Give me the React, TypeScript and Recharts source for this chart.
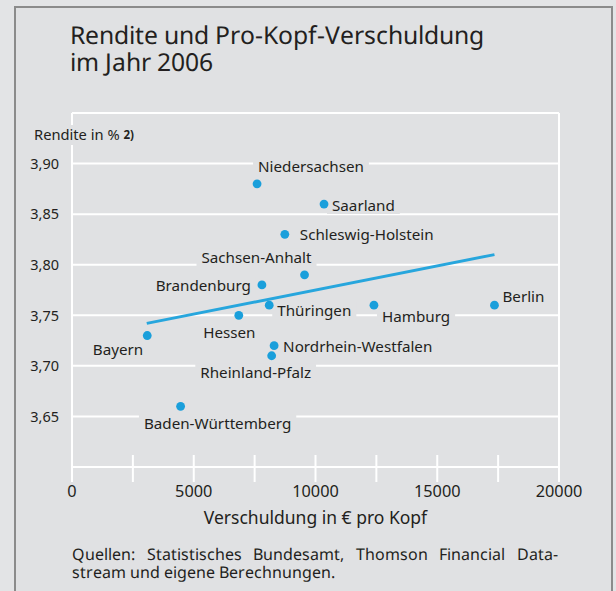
import React from 'react';
import { ScatterChart, Scatter, XAxis, YAxis, CartesianGrid, ReferenceLine } from 'recharts';

// ---- data ----
const states = [
  'Niedersachsen', 'Saarland', 'Schleswig-Holstein', 'Sachsen-Anhalt', 'Brandenburg',
  'Thüringen', 'Hessen', 'Hamburg', 'Berlin', 'Bayern',
  'Nordrhein-Westfalen', 'Rheinland-Pfalz', 'Baden-Württemberg',
];
const debtPerCapita = [7600, 10350, 8740, 9550, 7800, 8100, 6850, 12400, 17350, 3090, 8300, 8200, 4460];
const yieldPct = [3.88, 3.86, 3.83, 3.79, 3.78, 3.76, 3.75, 3.76, 3.76, 3.73, 3.72, 3.71, 3.66];
const trendX = [3070, 17350];
const trendY = [3.742, 3.81];
const xTicks = [0, 2500, 5000, 7500, 10000, 12500, 15000, 17500, 20000];
const yTicks = [3.6, 3.65, 3.7, 3.75, 3.8, 3.85, 3.9, 3.95];
const yLabelTicks = [3.65, 3.7, 3.75, 3.8, 3.85, 3.9];

// ---- label placement (style) ----
type Anchor = 'start' | 'middle' | 'end';
const labelPlacement: Record<string, { dx: number; dy: number; anchor: Anchor }> = {
  'Niedersachsen': { dx: 1, dy: -17, anchor: 'start' },
  'Saarland': { dx: 8, dy: 1, anchor: 'start' },
  'Schleswig-Holstein': { dx: 15, dy: 0, anchor: 'start' },
  'Sachsen-Anhalt': { dx: 7, dy: -17, anchor: 'end' },
  'Brandenburg': { dx: -11, dy: 1, anchor: 'end' },
  'Thüringen': { dx: 8, dy: 5, anchor: 'start' },
  'Hessen': { dx: -9.5, dy: 17, anchor: 'middle' },
  'Hamburg': { dx: 8, dy: 11, anchor: 'start' },
  'Berlin': { dx: 8, dy: -9, anchor: 'start' },
  'Bayern': { dx: -4, dy: 14, anchor: 'end' },
  'Nordrhein-Westfalen': { dx: 9, dy: 1, anchor: 'start' },
  'Rheinland-Pfalz': { dx: -16, dy: 17, anchor: 'middle' },
  'Baden-Württemberg': { dx: 37, dy: 17, anchor: 'middle' },
};

const FONT = "'Noto Sans', 'DejaVu Sans', sans-serif";
const TIGHT = "'NotoTight', 'Noto Sans', 'DejaVu Sans', sans-serif";
const BG = '#e0e1e3';
const BLUE = '#1a9fdb';
const TEXT = '#231f20';
const LABEL_SIZE = 15.2;
const YLABEL_SIZE = 14.7;
const NOTE_SIZE = 11.5;

const points = states.map((name, i) => ({ name, x: debtPerCapita[i], y: yieldPct[i] }));
const trend = trendX.map((x, i) => ({ x, y: trendY[i] }));

let ctx: CanvasRenderingContext2D | null = null;
function measure(text: string, size: number, weight = 400): number {
  if (!ctx && typeof document !== 'undefined') {
    ctx = document.createElement('canvas').getContext('2d');
  }
  if (!ctx) return text.length * size * 0.55;
  ctx.font = `${weight} ${size}px ${FONT}`;
  return ctx.measureText(text).width;
}

const PointShape = (props: any) => {
  const { cx, cy, payload } = props;
  if (cx == null || cy == null) return null;
  const p = labelPlacement[payload.name] || { dx: 8, dy: 0, anchor: 'start' as Anchor };
  const w = measure(payload.name, LABEL_SIZE);
  const tx = cx + p.dx;
  const ty = cy + p.dy;
  const left = p.anchor === 'start' ? tx : p.anchor === 'end' ? tx - w : tx - w / 2;
  return (
    <g>
      <rect x={left - 5} y={ty - 9} width={w + 10} height={18} fill={BG} />
      <text x={tx} y={ty} dy="0.36em" textAnchor={p.anchor} fontSize={LABEL_SIZE} fill={TEXT} fontFamily={FONT}>
        {payload.name}
      </text>
      <circle cx={cx} cy={cy} r={4.4} fill={BLUE} />
    </g>
  );
};

const XTick = (props: any) => {
  const { x, y, payload } = props;
  const v = payload.value as number;
  return (
    <g>
      <line x1={x} x2={x} y1={y - 12} y2={y + 15} stroke="#fff" strokeWidth={2} />
      {v % 5000 === 0 && (
        <text x={x} y={y + 30} textAnchor="middle" fontSize={16.3} fill={TEXT} fontFamily={FONT}>
          {String(v)}
        </text>
      )}
    </g>
  );
};

const YTick = (props: any) => {
  const { x, y, payload } = props;
  const v = payload.value as number;
  if (!yLabelTicks.some((t) => Math.abs(t - v) < 1e-6)) return <g />;
  return (
    <text x={x - 13} y={y} dy="0.36em" textAnchor="end" fontSize={14.5} fill={TEXT} fontFamily={FONT}>
      {v.toFixed(2).replace('.', ',')}
    </text>
  );
};

const YAxisTitle = (props: any) => {
  const vb = props.viewBox || { x: 32, y: 113, width: 40, height: 354 };
  const main = 'Rendite in %';
  const note = '2)';
  const wMain = measure(main + ' ', YLABEL_SIZE);
  const wNote = measure(note, NOTE_SIZE, 700);
  const x0 = vb.x + 2;
  const yc = vb.y + 22;
  return (
    <g>
      <rect x={x0 - 3} y={yc - 10} width={wMain + wNote + 6} height={20} fill={BG} />
      <text x={x0} y={yc} dy="0.36em" fontSize={YLABEL_SIZE} fill={TEXT} fontFamily={FONT}>
        {main + ' '}
        <tspan fontSize={NOTE_SIZE} fontWeight={700} dy="-1">{note}</tspan>
      </text>
    </g>
  );
};

export default function App() {
  return (
    <div style={{ position: 'absolute', left: 0, top: 0, width: 616, height: 591, background: '#e3e4e6', overflow: 'hidden', fontFamily: FONT, color: TEXT }}>
      <style>{`@font-face { font-family: 'NotoTight'; src: local('Noto Sans'), local('NotoSans-Regular'), local('Noto Sans Regular'); ascent-override: 85%; descent-override: 20%; line-gap-override: 0%; }`}</style>
      <div style={{ position: 'absolute', left: 14, top: 6, width: 595, height: 600, border: '2.5px solid #8b8b8b', background: BG }} />
      <div style={{ position: 'absolute', left: 70, top: 22.5, fontSize: 24.7, lineHeight: '27px', whiteSpace: 'nowrap', fontFamily: TIGHT }}>
        <div>Rendite und Pro-Kopf-Verschuldung</div>
        <div>im Jahr 2006</div>
      </div>
      <div style={{ position: 'absolute', left: 0, top: 0 }}>
        <ScatterChart width={616} height={591} margin={{ top: 113, right: 57, bottom: 94, left: 32 }}>
          <CartesianGrid horizontal vertical={false} stroke="#ffffff" strokeWidth={2} />
          <XAxis
            type="number"
            dataKey="x"
            domain={[0, 20000]}
            ticks={xTicks}
            interval={0}
            height={30}
            tickSize={0}
            tickMargin={0}
            tickLine={false}
            axisLine={{ stroke: '#ffffff', strokeWidth: 2 }}
            tick={<XTick />}
            allowDataOverflow
          />
          <YAxis
            type="number"
            dataKey="y"
            domain={[3.6, 3.95]}
            ticks={yTicks}
            interval={0}
            width={40}
            tickSize={0}
            tickMargin={0}
            tickLine={false}
            axisLine={{ stroke: '#ffffff', strokeWidth: 2 }}
            tick={<YTick />}
            label={<YAxisTitle />}
            allowDataOverflow
          />
          <ReferenceLine y={3.95} stroke="#ffffff" strokeWidth={2} />
          <ReferenceLine x={20000} stroke="#ffffff" strokeWidth={2} />
          <Scatter
            data={trend}
            line={{ stroke: '#27a6dd', strokeWidth: 3 }}
            shape={() => <g />}
            isAnimationActive={false}
            legendType="none"
          />
          <Scatter data={points} shape={<PointShape />} isAnimationActive={false} legendType="none" />
        </ScatterChart>
      </div>
      <div style={{ position: 'absolute', left: 72, width: 487, top: 506, textAlign: 'center', fontSize: 17.5, lineHeight: '22px', whiteSpace: 'nowrap' }}>
        Verschuldung in € pro Kopf
      </div>
      <div style={{ position: 'absolute', left: 72, width: 486, top: 546, fontSize: 16, lineHeight: '18px', fontFamily: TIGHT }}>
        <div style={{ textAlign: 'justify', textAlignLast: 'justify' }}>Quellen: Statistisches Bundesamt, Thomson Financial Data-</div>
        <div>stream und eigene Berechnungen.</div>
      </div>
    </div>
  );
}
